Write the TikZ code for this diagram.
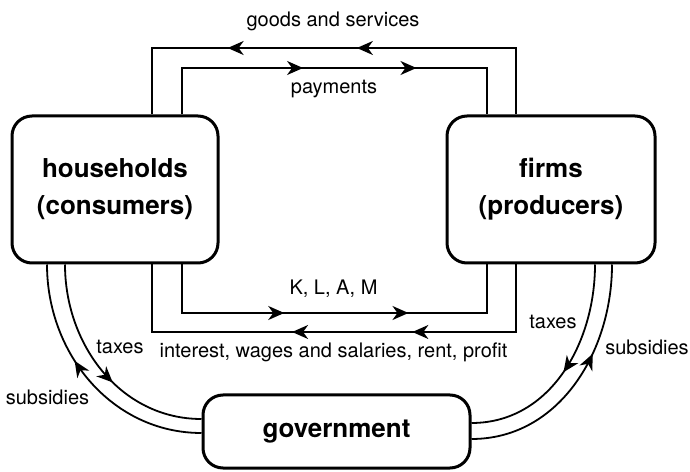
\documentclass[tikz,border=0pt]{standalone}
\usepackage{fontspec}
\setmainfont{TeX Gyre Heros}
\usetikzlibrary{arrows.meta,decorations.markings}
\tikzset{
sector/.style={draw, line width=1.5pt, rounded corners=10pt, align=center,
	font=\bfseries\fontsize{13}{18.5}\selectfont},
flow/.style={line width=0.9pt},
tag/.style={font=\fontsize{10}{12}\selectfont},
twoarrows/.style 2 args={postaction={decorate, decoration={markings,
	mark=at position #1 with {\arrow{>}},
	mark=at position #2 with {\arrow{>}}}}},
onearrow/.style={postaction={decorate, decoration={markings,
	mark=at position #1 with {\arrow{>}}}}},
>={Stealth[length=8pt, width=7pt, inset=2.5pt]}
}

\begin{document}
\begin{tikzpicture}[x=0.5pt, y=0.5pt]
	\useasboundingbox (0,0) rectangle (690,471);
	\node[sector, minimum width=103pt, minimum height=73.5pt] (hh) at (115,281.5) {households\\(consumers)};
	\node[sector, minimum width=104pt, minimum height=73.5pt] (fi) at (551,281.5) {firms\\(producers)};
	\node[sector, minimum width=133.5pt, minimum height=36.5pt] (gov) at (336.5,39.5) {government};

	% corners of the loops
	\coordinate (gsL) at (152,423);
	\coordinate (gsR) at (516,423);
	\coordinate (payL) at (182,403);
	\coordinate (payR) at (487,403);
	\coordinate (facL) at (182,158);
	\coordinate (facR) at (487,158);
	\coordinate (incL) at (152,139);
	\coordinate (incR) at (516,139);
	% ends of the curves
	\coordinate (taxL) at (65,52);
	\coordinate (subL) at (47,38);
	\coordinate (taxR) at (595,48);
	\coordinate (subR) at (612,32);

	\draw[flow, twoarrows={0.454}{0.714}] (fi.north -| gsR) |- (gsL) -- (hh.north -| gsL);
	\draw[flow, twoarrows={0.421}{0.706}] (hh.north -| payL) |- (payR) -- (fi.north -| payR);
	\draw[flow, twoarrows={0.375}{0.684}] (hh.south -| facL) |- (facR) -- (fi.south -| facR);
	\draw[flow, twoarrows={0.343}{0.584}] (fi.south -| incR) |- (incL) -- (hh.south -| incL);

	\draw[flow, onearrow=0.57] (hh.south -| taxL) to[out=-90, in=180] (gov.west |- taxL);
	\draw[flow, onearrow=0.6] (gov.west |- subL) to[out=180, in=-90] (hh.south -| subL);
	\draw[flow, onearrow=0.51] (fi.south -| taxR) to[out=-90, in=0] (gov.east |- taxR);
	\draw[flow, onearrow=0.63] (gov.east |- subR) to[out=0, in=-90] (fi.south -| subR);

	\node[tag] (goods) at (333,450) {goods and services};
	\node[tag] (pay) at (334,382) {payments};
	\node[tag] (klam) at (333.5,182) {K, L, A, M};
	\node[tag] (income) at (333.5,119) {interest, wages and salaries, rent, profit};
	\node[tag] (taxesL) at (120,124) {taxes};
	\node[tag] (subsL) at (47.5,74) {subsidies};
	\node[tag] (taxesR) at (553,149) {taxes};
	\node[tag] (subsR) at (647,124) {subsidies};
\end{tikzpicture}
\end{document}
